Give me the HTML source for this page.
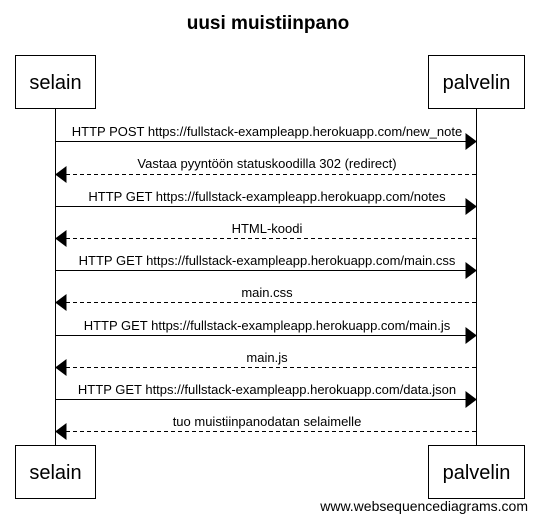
<!DOCTYPE html>
<html><head><meta charset="utf-8"><style>
html,body{margin:0;padding:0;background:#fff;}
svg{display:block;font-family:"Liberation Sans",Arial,sans-serif;}
</style></head><body>
<svg width="537" height="522" xmlns="http://www.w3.org/2000/svg">
<text x="268" y="29" text-anchor="middle" font-size="19" font-weight="bold">uusi muistiinpano</text>
<line x1="55.5" y1="108" x2="55.5" y2="445" stroke="#000" stroke-width="1"/>
<line x1="476.5" y1="108" x2="476.5" y2="445" stroke="#000" stroke-width="1"/>
<rect x="15.5" y="55.5" width="80" height="53" fill="#fff" stroke="#000"/>
<rect x="428.5" y="55.5" width="96" height="53" fill="#fff" stroke="#000"/>
<rect x="15.5" y="445.5" width="80" height="53" fill="#fff" stroke="#000"/>
<rect x="428.5" y="445.5" width="96" height="53" fill="#fff" stroke="#000"/>
<g font-size="20" text-anchor="middle">
<text x="55.5" y="89">selain</text><text x="476.5" y="89">palvelin</text>
<text x="55.5" y="479">selain</text><text x="476.5" y="479">palvelin</text>
</g>
<g font-size="12" text-anchor="middle" stroke="#000">
<line x1="56" y1="141.5" x2="467" y2="141.5"/><polygon points="466,134 476,141.5 466,149" fill="#000"/>
<line x1="66" y1="174.5" x2="476" y2="174.5" stroke-dasharray="4,3"/><polygon points="66,167 56,174.5 66,182" fill="#000"/>
<line x1="56" y1="206.5" x2="467" y2="206.5"/><polygon points="466,199 476,206.5 466,214" fill="#000"/>
<line x1="66" y1="238.5" x2="476" y2="238.5" stroke-dasharray="4,3"/><polygon points="66,231 56,238.5 66,246" fill="#000"/>
<line x1="56" y1="270.5" x2="467" y2="270.5"/><polygon points="466,263 476,270.5 466,278" fill="#000"/>
<line x1="66" y1="302.5" x2="476" y2="302.5" stroke-dasharray="4,3"/><polygon points="66,295 56,302.5 66,310" fill="#000"/>
<line x1="56" y1="335.5" x2="467" y2="335.5"/><polygon points="466,328 476,335.5 466,343" fill="#000"/>
<line x1="66" y1="367.5" x2="476" y2="367.5" stroke-dasharray="4,3"/><polygon points="66,360 56,367.5 66,375" fill="#000"/>
<line x1="56" y1="399.5" x2="467" y2="399.5"/><polygon points="466,392 476,399.5 466,407" fill="#000"/>
<line x1="66" y1="431.5" x2="476" y2="431.5" stroke-dasharray="4,3"/><polygon points="66,424 56,431.5 66,439" fill="#000"/>
</g>
<g font-size="13" text-anchor="middle" fill="#000">
<text x="267" y="136">HTTP POST https://fullstack-exampleapp.herokuapp.com/new_note</text>
<text x="267" y="168">Vastaa pyyntöön statuskoodilla 302 (redirect)</text>
<text x="267" y="201">HTTP GET https://fullstack-exampleapp.herokuapp.com/notes</text>
<text x="267" y="233">HTML-koodi</text>
<text x="267" y="265">HTTP GET https://fullstack-exampleapp.herokuapp.com/main.css</text>
<text x="267" y="297">main.css</text>
<text x="267" y="330">HTTP GET https://fullstack-exampleapp.herokuapp.com/main.js</text>
<text x="267" y="362">main.js</text>
<text x="267" y="394">HTTP GET https://fullstack-exampleapp.herokuapp.com/data.json</text>
<text x="267" y="426">tuo muistiinpanodatan selaimelle</text>
</g>
<text x="528" y="511" font-size="14" text-anchor="end">www.websequencediagrams.com</text>
</svg>
</body></html>
